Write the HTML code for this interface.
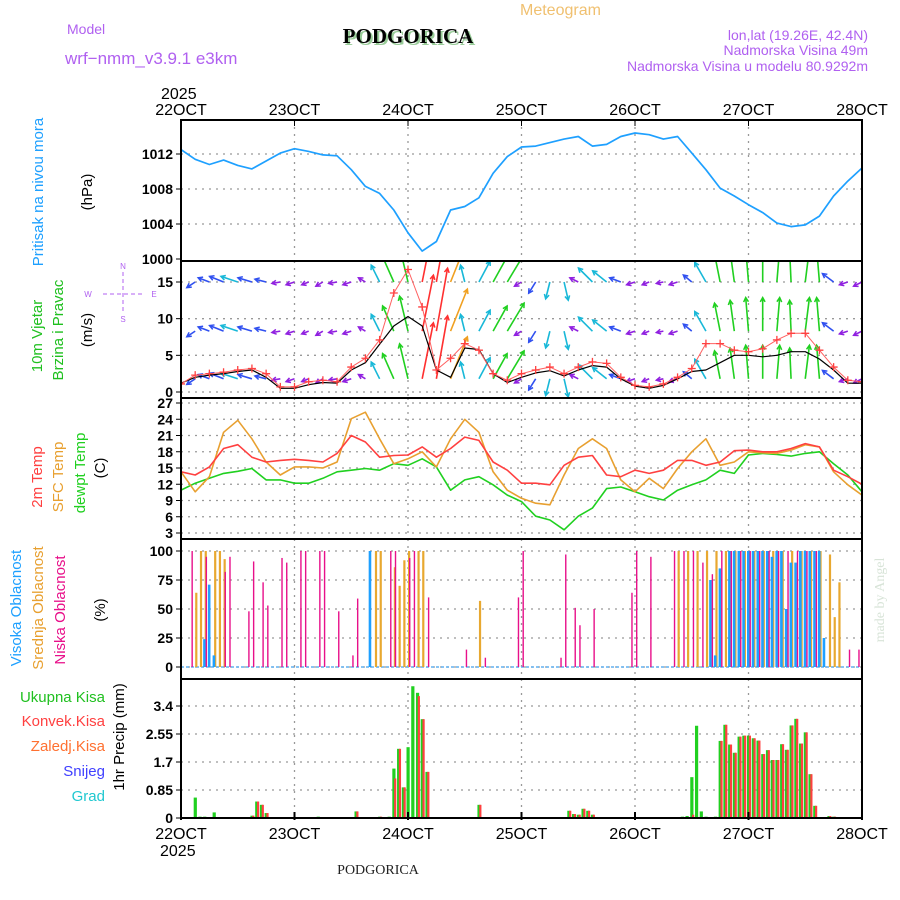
<!DOCTYPE html>
<html><head><meta charset="utf-8">
<style>
html,body{margin:0;padding:0;background:#fff;}
svg{display:block;font-family:"Liberation Sans",sans-serif;}
</style></head>
<body>
<svg id="chart" width="900" height="900" viewBox="0 0 900 900">
<g>
<text x="520" y="15" font-size="16" fill="#f0c070">Meteogram</text>
<text x="67" y="34" font-size="14" fill="#b060f0">Model</text>
<text x="65" y="64" font-size="17" fill="#b060f0">wrf−nmm_v3.9.1 e3km</text>
<text x="408" y="43" font-size="21" font-weight="bold" text-anchor="middle" font-family="Liberation Serif,serif" fill="#9c9" transform="translate(2,2)">PODGORICA</text>
<text x="408" y="43" font-size="21" font-weight="bold" text-anchor="middle" font-family="Liberation Serif,serif" fill="#000">PODGORICA</text>
<text x="868" y="40" font-size="14" text-anchor="end" fill="#b060f0">lon,lat (19.26E, 42.4N)</text>
<text x="868" y="55" font-size="14" text-anchor="end" fill="#b060f0">Nadmorska Visina 49m</text>
<text x="868" y="71" font-size="14" text-anchor="end" fill="#b060f0">Nadmorska Visina u modelu 80.9292m</text>
<text x="161" y="99" font-size="16" fill="#000">2025</text>
</g>
<g id="labels">
<text transform="translate(43,192) rotate(-90)" font-size="15" text-anchor="middle" fill="#1ea0ff">Pritisak na nivou mora</text>
<text transform="translate(92,192) rotate(-90)" font-size="15" text-anchor="middle" fill="#000">(hPa)</text>
<text transform="translate(42,336) rotate(-90)" font-size="15" text-anchor="middle" fill="#20c020">10m Vjetar</text>
<text transform="translate(63,330) rotate(-90)" font-size="15" text-anchor="middle" fill="#20c020">Brzina i Pravac</text>
<text transform="translate(92,330) rotate(-90)" font-size="15" text-anchor="middle" fill="#000">(m/s)</text>
<g fill="#b060f0" font-size="8" text-anchor="middle">
<text x="123" y="269">N</text><text x="88" y="297">W</text><text x="154" y="297">E</text><text x="123" y="322">S</text>
<line x1="103" y1="294" x2="142" y2="294" stroke="#b060f0" stroke-dasharray="4,3"/>
<line x1="123" y1="272" x2="123" y2="314" stroke="#b060f0" stroke-dasharray="4,3"/>
</g>
<text transform="translate(42,477) rotate(-90)" font-size="15" text-anchor="middle" fill="#ff4040">2m Temp</text>
<text transform="translate(63,477) rotate(-90)" font-size="15" text-anchor="middle" fill="#e8a030">SFC Temp</text>
<text transform="translate(85,473) rotate(-90)" font-size="15" text-anchor="middle" fill="#20d020">dewpt Temp</text>
<text transform="translate(105,468) rotate(-90)" font-size="15" text-anchor="middle" fill="#000">(C)</text>
<text transform="translate(21,608) rotate(-90)" font-size="15" text-anchor="middle" fill="#1ea0ff">Visoka Oblacnost</text>
<text transform="translate(43,608) rotate(-90)" font-size="15" text-anchor="middle" fill="#e8a030">Srednja Oblacnost</text>
<text transform="translate(65,610) rotate(-90)" font-size="15" text-anchor="middle" fill="#e8108a">Niska Oblacnost</text>
<text transform="translate(105,610) rotate(-90)" font-size="15" text-anchor="middle" fill="#000">(%)</text>
<g font-size="15" text-anchor="end">
<text x="105" y="702" fill="#20c020">Ukupna Kisa</text>
<text x="105" y="726" fill="#ff4040">Konvek.Kisa</text>
<text x="105" y="751" fill="#ff7030">Zaledj.Kisa</text>
<text x="105" y="776" fill="#4040ff">Snijeg</text>
<text x="105" y="801" fill="#20c8d0">Grad</text>
</g>
<text transform="translate(124,737) rotate(-90)" font-size="15" text-anchor="middle" fill="#000">1hr Precip (mm)</text>
<text transform="translate(884,600) rotate(-90)" font-size="14" text-anchor="middle" fill="#d8e4d8" font-family="Liberation Serif,serif">made by Angel</text>
<text x="378" y="874" font-size="14" text-anchor="middle" font-family="Liberation Serif,serif" fill="#222">PODGORICA</text>
<text x="160" y="856" font-size="16" fill="#000">2025</text>
</g>
</svg>
<script>
// ---- data ----
const dayLabels = ["22OCT","23OCT","24OCT","25OCT","26OCT","27OCT","28OCT"];
const pressureTicks = [1000,1004,1008,1012];
const windTicks = [0,5,10,15];
const tempTicks = [3,6,9,12,15,18,21,24,27];
const cloudTicks = [0,25,50,75,100];
const precipTicks = [0.85,1.7,2.55,3.4];
const precipTickLabels = ["0","0.85","1.7","2.55","3.4"];
// 3-hourly series (49 points)
const pressure = [1012.5,1011.4,1010.8,1011.3,1010.7,1010.3,1011.2,1012.1,
 1012.6,1012.3,1011.9,1011.8,1010.2,1008.3,1007.5,1005.6,
 1003.0,1000.9,1002.0,1005.6,1006.0,1007.0,1009.8,1011.7,
 1012.8,1012.9,1013.3,1013.7,1014.0,1012.9,1013.1,1014.0,
 1014.4,1014.2,1013.7,1014.0,1012.1,1010.2,1008.1,1007.2,
 1006.2,1005.3,1004.1,1003.7,1003.9,1004.9,1007.2,1008.9,1010.4];
const temp2m = [14.3,13.7,15.2,18.6,19.3,17,16.1,16.4,
 16.6,16.4,16.1,17.7,21,19.8,17,17.3,
 17.4,18.9,17,18.6,20.7,20.1,16.1,14.6,
 12.2,12.2,11.9,15.5,17,17.3,13.7,13.4,
 14.6,14,14.6,16.4,16.4,15.5,16.1,18.2,
 18.3,18,18,18.6,19.5,18.9,14.6,13.4,12];
const tempSfc = [14.3,10.6,13.4,21.6,23.8,20.4,16.1,13.7,
 15.2,15.2,15,16.1,24.1,25.3,20.4,15.8,
 16.7,18,15.2,20.4,24,21.6,14.3,10.9,
 9.4,8.5,8.2,13.7,18.6,20.4,18.6,12.8,
 10.6,13.1,11.2,14.9,18,20.4,15.5,16.1,
 18,17.8,17.7,18.3,19.3,18.9,14.3,11.9,10];
const dewpoint = [10.9,12.2,13.1,14,14.4,14.9,12.8,12.8,
 12.2,12.2,13.1,14.3,14.6,14.9,14.6,15.8,
 15.5,16.7,15.2,10.9,12.8,13.4,11.9,10,
 8.8,6.1,5.4,3.6,6.1,7.6,11.2,11.5,
 10.6,9.7,9.1,10.9,11.9,12.8,14.6,14,
 17.4,17.7,17.5,17.2,17.7,18,15.8,13.7,10.6];
const windGust = [1.1,2.3,2.5,2.7,3,3.2,2.5,0.7,
 0.7,1.4,1.6,1.4,3.4,4.6,7.1,13.5,
 16.7,11.6,3,4.6,6.6,5.7,2.5,1.6,
 2.5,3,3.4,2.5,3.4,4.1,3.9,2,
 0.9,0.7,1.1,2,3.2,6.6,6.6,5.7,
 5.5,5.9,7.1,8,8,5.7,3.4,1.6,1.4];
const windSpeed = [1.2,2,2.3,2.5,2.8,3,2,0.5,
 0.5,1,1.3,1.2,3,4,6.5,9,
 10.3,9,3,2,6,5.8,2.5,1.3,
 2,2.6,2.9,2.2,3,3.6,3.4,1.8,
 0.8,0.5,0.9,1.8,2.8,3,4,5,
 5,4.8,5,5.5,5.5,4.5,3,1.2,1.2];
// wind vector components (m/s), u east, v north
const windU = [-3,-3,-4,-5,-6,-5,-4,-3,
 -3,-2.5,-2.5,-3,-3,-2.5,-3,-4,
 -3,4,4,6,-1.5,4,5,6,
 -2.5,-2.5,-1.5,1.5,-3,-5,-5,-4,
 -3,-2.5,-2.5,-3,-3,-4,-2,-1.5,
 -1,0,1,-0.5,1.5,-1,-4,-3,-3];
const windV = [-1.5,-2,1.5,2,2,1.5,1,-0.5,
 -1,-1,-1.5,-0.5,-1,1.5,6,9,
 12.5,20,22.5,15,6,7.5,9,10,
 -1.5,-4,-6,-6.5,1.5,5,4,1.5,
 -1,-1,-0.5,-1,2.5,7,10,11,
 12,12,12,11,12,12,3,-1,-1.5];
const windLevels = [15,8.3,1.8];
// cloud cover: hour index + percent
const lowHours = [2,5,9,10,14,15,17,18,21,22,25,26,29,30,33,36,37,44,45,48,49,52,60,64,71,72,80,81,83,84,87,95,96,99,104,106,108,110,112,114,116,118,120,122,124,126,128,130,132,134,141,143];
const lowValues = [100,95,82,95,48,91,73,53,94,90,100,100,100,100,48,10,59,100,100,94,100,60,15,8,60,100,8,97,51,36,50,64,100,95,100,100,100,90,80,100,100,100,100,100,100,100,100,100,100,100,15,15];
const midHours = [3,4,5,7,8,9,41,42,45,46,47,48,50,51,63,105,107,109,111,113,115,117,119,121,123,125,127,129,131,133,135,137,138,139];
const midValues = [64,100,100,100,100,93,100,100,86,70,92,100,100,100,57,100,100,100,100,100,100,100,100,100,100,100,100,100,100,100,100,97,43,73];
const highHours = [5,6,7,40,112,113,114,116,117,118,119,120,121,122,123,124,125,126,127,128,129,130,131,132,133,134,135,136];
const highValues = [24,71,10,100,75,10,85,100,100,100,100,100,100,100,100,100,95,100,100,50,90,90,100,100,100,100,100,25];
// precipitation: hour index, total, convective
const precipHours = [3,4,5,7,15,16,17,18,29,37,42,44,45,46,47,48,49,50,51,52,63,82,83,84,85,86,87,106,107,108,109,110,111,113,114,115,116,117,118,119,120,121,122,123,124,125,126,127,128,129,130,131,132,133,134,137,138];
const precipTotal = [0.62,0.04,0.04,0.17,0.07,0.5,0.4,0.15,0.04,0.2,0.04,0.04,1.5,2.1,0.93,2.15,4.0,3.8,3.0,1.4,0.4,0.22,0.12,0.1,0.28,0.22,0.1,0.04,0.06,1.24,2.8,0.2,0.04,0.04,2.34,2.83,2.23,1.98,2.47,2.5,2.5,2.42,2.35,1.94,2.06,1.76,1.76,2.24,2.07,2.81,3.01,2.26,2.6,1.33,0.37,0.06,0.04];
const precipConv = [0,0,0,0,0.07,0.5,0.4,0.15,0,0.2,0.04,0,1.2,2.1,0.93,0,0,3.7,3.0,1.4,0.4,0.22,0.12,0.1,0.28,0.22,0.1,0,0,0.1,0,0,0,0,2.34,2.83,2.23,1.98,2.47,2.5,2.5,2.42,2.35,1.94,2.06,1.76,1.76,2.24,2.07,2.81,3.01,2.26,2.6,1.33,0.37,0.06,0.04];

// ---- layout ----
const svg = document.getElementById('chart');
const NS = 'http://www.w3.org/2000/svg';
const X0 = 181, X1 = 862, HOURS = 144;
function xH(h){ return X0 + h*(X1-X0)/HOURS; }
function lin(v0,y0,v1,y1){ return v => y0 + (v-v0)*(y1-y0)/(v1-v0); }
const P = {
 pres:{top:120,bot:261,y:lin(1000,259,1012,154)},
 wind:{top:261,bot:398,y:lin(0,392,15,282)},
 temp:{top:398,bot:539,y:lin(3,533,27,403)},
 cloud:{top:539,bot:679,y:lin(0,667,100,551)},
 prec:{top:679,bot:818,y:lin(0,818,3.4,706)}
};
function mk(tag, attrs, parent){
 const e = document.createElementNS(NS, tag);
 for (const k in attrs) e.setAttribute(k, attrs[k]);
 (parent||svg).appendChild(e);
 return e;
}
function grp(name){
 const g = mk('g',{});
 
 
 return g;
}
const clipDefs = mk('defs',{});
Object.keys(P).forEach(k=>{
 const c = mk('clipPath',{id:'clip-'+k}, clipDefs);
 mk('rect',{x:X0,y:P[k].top,width:X1-X0,height:P[k].bot-P[k].top}, c);
});

function gridPanel(key, ticks, labels, name){
 const p = P[key];
 const g = grp(name+'-grid');
 ticks.forEach(t=>{
  const y = p.y(t);
  if (y > p.top+2 && y < p.bot-2)
   mk('line',{x1:X0,x2:X1,y1:y,y2:y,stroke:'#999','stroke-dasharray':'2,5','stroke-width':1.3},g);
 });
 for (let d=1; d<6; d++){
  const x = xH(d*24);
  mk('line',{x1:x,x2:x,y1:p.top,y2:p.bot,stroke:'#999','stroke-dasharray':'2,5','stroke-width':1.3},g);
 }
 const ga = grp(name+'-y-axis');
 ticks.forEach((t,i)=>{
  const y = p.y(t);
  mk('line',{x1:X0-5,x2:X0,y1:y,y2:y,stroke:'#000'},ga);
  const tx = mk('text',{x:X0-8,y:y+5,'font-size':14,'text-anchor':'end','font-weight':'bold',fill:'#000'},ga);
  tx.textContent = labels ? labels[i] : t;
 });
}
gridPanel('pres', pressureTicks, null, 'pressure');
gridPanel('wind', windTicks, null, 'wind');
gridPanel('temp', tempTicks, null, 'temperature');
gridPanel('cloud', cloudTicks, null, 'cloud');
gridPanel('prec', [0].concat(precipTicks), precipTickLabels, 'precip');

function line3h(arr, key, color, name, width){
 const p = P[key];
 const pts = arr.map((v,i)=> xH(i*3).toFixed(1)+','+p.y(v).toFixed(1)).join(' ');
 const e = mk('polyline',{points:pts,fill:'none',stroke:color,'stroke-width':width||1.5,'stroke-linejoin':'round','clip-path':'url(#clip-'+key+')'});
 
 
 return e;
}
line3h(pressure,'pres','#1ea0ff','pressure-line',1.7);

function arrowColor(m){
 if (m < 3.5) return '#9020e0';
 if (m < 5.5) return '#3050f0';
 if (m < 9) return '#18b8d8';
 if (m < 13) return '#20d020';
 if (m < 18) return '#f0a020';
 return '#ff3030';
}
const gw = grp('wind-arrows');
gw.setAttribute('clip-path','url(#clip-wind)');
const WS = 2.8;
windLevels.forEach((lvl,li)=>{
 windU.forEach((u,i)=>{
  const v = windV[i];
  const m = Math.sqrt(u*u+v*v);
  const x1 = xH(i*3), y1 = P.wind.y(lvl);
  const x2 = x1 + u*WS, y2 = y1 - v*WS;
  const col = arrowColor(m);
  const a = mk('line',{x1:x1,y1:y1,x2:x2,y2:y2,stroke:col,'stroke-width':1.6},gw);
  
  
  const ang = Math.atan2(y2-y1,x2-x1);
  const hl = 5;
  const h = mk('polyline',{points:(x2-hl*Math.cos(ang-0.5))+','+(y2-hl*Math.sin(ang-0.5))+' '+x2+','+y2+' '+(x2-hl*Math.cos(ang+0.5))+','+(y2-hl*Math.sin(ang+0.5)),fill:'none',stroke:col,'stroke-width':1.5},gw);
  
  
 });
});
line3h(windSpeed,'wind','#000','wind-speed-line',1.2);
line3h(windGust,'wind','#ff6060','wind-gust-line',1);
const gx = grp('wind-gust-markers');
windGust.forEach((v,i)=>{
 const x = xH(i*3), y = P.wind.y(v);
 const m = mk('path',{d:'M'+(x-4)+','+y+'h8M'+x+','+(y-4)+'v8',stroke:'#ff4040','stroke-width':1.3,'clip-path':'url(#clip-wind)'},gx);
 
 
});

line3h(dewpoint,'temp','#20d020','dewpoint-line',1.6);
line3h(tempSfc,'temp','#e8a030','sfc-temp-line',1.6);
line3h(temp2m,'temp','#ff4040','temp-2m-line',1.6);

const gc = grp('cloud-bars');
mk('line',{x1:X0,x2:X1,y1:P.cloud.y(0),y2:P.cloud.y(0),stroke:'#60b0f0','stroke-width':1.5,'stroke-dasharray':'3,2'},gc);
function cloudBars(hours, vals, color, w, off, name){
 hours.forEach((h,i)=>{
  const y = P.cloud.y(vals[i]);
  const r = mk('rect',{x:xH(h)+off,y:y,width:w,height:P.cloud.y(0)-y,fill:color},gc);
  
  
 });
}
cloudBars(midHours, midValues, '#e8a830', 2.2, 0, 'mid-cloud-bar');
cloudBars(highHours, highValues, '#1ea0ff', 2.6, -1.5, 'high-cloud-bar');
cloudBars(lowHours, lowValues, '#e8108a', 1.4, 1, 'low-cloud-bar');

const gp = grp('precip-bars');
precipHours.forEach((h,i)=>{
 const x = xH(h);
 const yt = P.prec.y(precipTotal[i]);
 const r = mk('rect',{x:x-1.5,y:yt,width:3.2,height:P.prec.y(0)-yt,fill:'#20d020','clip-path':'url(#clip-prec)'},gp);
 
 
 if (precipConv[i] > 0){
  const yc = P.prec.y(precipConv[i]);
  const c = mk('rect',{x:x+0.3,y:yc,width:2.2,height:P.prec.y(0)-yc,fill:'#ff4040','clip-path':'url(#clip-prec)'},gp);
  
  
 }
});

const gf = grp('panel-frames');
Object.keys(P).forEach(k=>{
 const p = P[k];
 const r = mk('rect',{x:X0,y:p.top,width:X1-X0,height:p.bot-p.top,fill:'none',stroke:'#000','stroke-width':2},gf);
 
 
});

const gxTop = grp('x-axis-top');
const gxBot = grp('x-axis-bottom');
dayLabels.forEach((d,i)=>{
 const x = xH(i*24);
 mk('line',{x1:x,x2:x,y1:P.pres.top,y2:P.pres.top+6,stroke:'#000'},gxTop);
 const t = mk('text',{x:x,y:115,'font-size':16,'text-anchor':'middle',fill:'#000'},gxTop);
 t.textContent = d;
 mk('line',{x1:x,x2:x,y1:P.prec.bot-6,y2:P.prec.bot+2,stroke:'#000','stroke-width':2},gxBot);
 const b = mk('text',{x:x,y:839,'font-size':16,'text-anchor':'middle',fill:'#000'},gxBot);
 b.textContent = d;
});
</script>
</body></html>
